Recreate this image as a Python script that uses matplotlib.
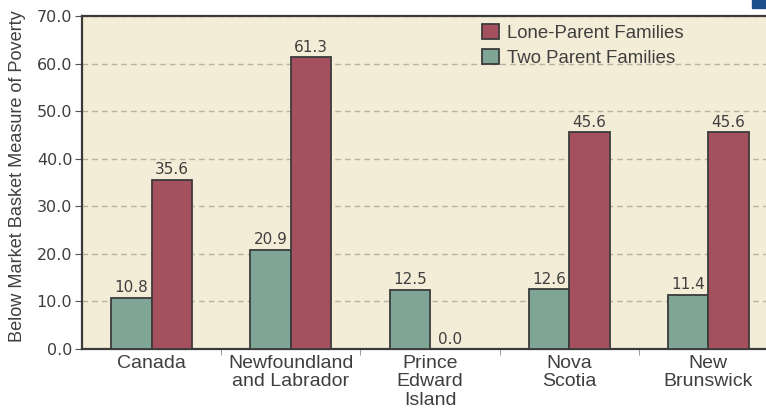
import numpy as np
import matplotlib.pyplot as plt
from matplotlib.patches import Rectangle

plt.rcParams['font.family'] = ['Liberation Sans', 'DejaVu Sans']

# data
categories = ['Canada', 'Newfoundland\nand Labrador', 'Prince\nEdward\nIsland',
              'Nova\nScotia', 'New\nBrunswick']
two_parent = [10.8, 20.9, 12.5, 12.6, 11.4]
lone_parent = [35.6, 61.3, 0.0, 45.6, 45.6]
yticks = [0, 10, 20, 30, 40, 50, 60, 70]

green = '#7fa597'
red = '#a4505f'
edge = '#3b3b3b'
bg = '#f3ecd6'
txt = '#3f3f3f'

fig = plt.figure(figsize=(7.66, 4.08), dpi=100)
# plot area runs slightly past the right edge of the picture (cropped original)
ax = fig.add_axes([82 / 766, 1 - 349 / 408, 696 / 766, 333 / 408])
ax.set_facecolor(bg)

x = np.arange(len(categories))
w = 0.29
b1 = ax.bar(x - w / 2, two_parent, w, color=green, edgecolor=edge, linewidth=1.3,
            label='Two Parent Families', zorder=3)
b2 = ax.bar(x + w / 2, lone_parent, w, color=red, edgecolor=edge, linewidth=1.3,
            label='Lone-Parent Families', zorder=3)

# numbers in the original use a wide face, DejaVu is the closest fit
for rect, v in zip(list(b1) + list(b2), two_parent + lone_parent):
    ax.text(rect.get_x() + rect.get_width() / 2, v + 0.5, f'{v:.1f}',
            ha='center', va='bottom', fontsize=11, color=txt, zorder=4,
            family='DejaVu Sans')

ax.set_xlim(-0.5, 4.5)
ax.set_ylim(0, 70)
ax.set_yticks(yticks)
ax.set_yticklabels([f'{t:.1f}' for t in yticks], fontsize=11.5, color=txt,
                   family='DejaVu Sans')
ax.set_xticks(x)
ax.set_xticklabels(categories, fontsize=14, color=txt, linespacing=1.12)
ax.tick_params(axis='x', length=0, pad=4)
ax.set_xticks(np.arange(0.5, 4.5, 1), minor=True)
ax.tick_params(axis='x', which='minor', length=4, color='#888888')
ax.tick_params(axis='y', length=5, color='#555555', pad=2)

ax.yaxis.grid(True, linestyle=(0, (4, 3)), color='#b8b2a2', linewidth=1, zorder=1)
ax.set_axisbelow(True)

for s in ['left', 'bottom', 'top']:
    ax.spines[s].set_color('#3a3a3a')
    ax.spines[s].set_linewidth(1.6)
ax.spines['right'].set_visible(False)

ax.set_ylabel('Below Market Basket Measure of Poverty', fontsize=13.1, color=txt)
ax.yaxis.set_label_coords(-0.08, 0.52)

handles = [b2, b1]
leg = ax.legend(handles, [h.get_label() for h in handles], loc='upper left',
                bbox_to_anchor=(0.556, 1.015), frameon=False, fontsize=13.4,
                handlelength=0.9, handleheight=0.9, handletextpad=0.45,
                labelspacing=0.35, borderaxespad=0.3)
for t in leg.get_texts():
    t.set_color(txt)

# small blue mark in the top-right corner of the original
fig.patches.append(Rectangle((752 / 766, 1 - 8 / 408), 14 / 766, 8 / 408,
                             transform=fig.transFigure, color='#1f4e8c'))

fig.savefig('out.png', dpi=100)
